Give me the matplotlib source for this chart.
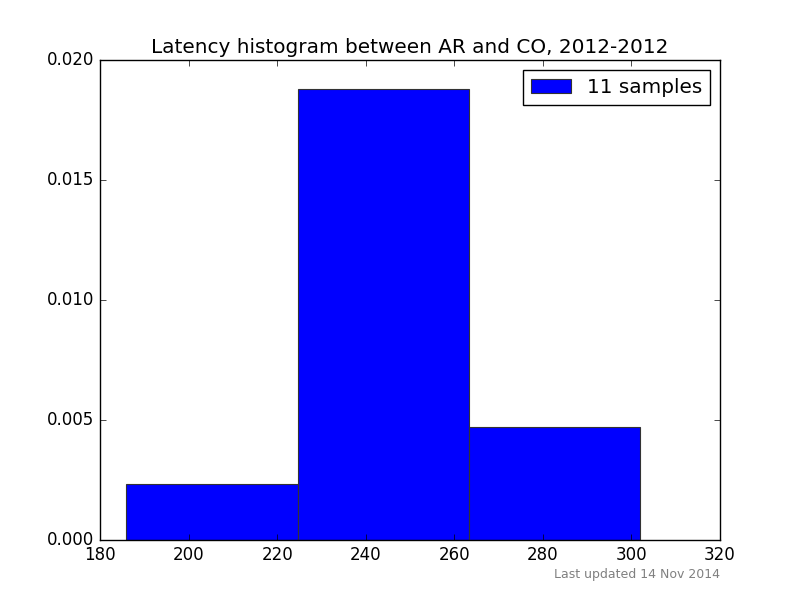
import matplotlib
matplotlib.use('Agg')
import matplotlib.pyplot as plt

# histogram bins (latency in ms)
bin_edges = [185.9, 224.6, 263.3, 301.9]
bin_counts = [1, 8, 2]
n_samples = sum(bin_counts)

title = 'Latency histogram between AR and CO, 2012-2012'
footer = 'Last updated 14 Nov 2014'

plt.style.use('classic')

fig = plt.figure(figsize=(8, 6), dpi=100)
ax = fig.add_axes([0.125, 0.1, 0.775, 0.8])

ax.hist(bin_edges[:-1], bins=bin_edges, weights=bin_counts, density=True,
        color='#0000ff', edgecolor='#333333', linewidth=0.8,
        label='{} samples'.format(n_samples))

ax.set_xlim(180, 320)
ax.set_ylim(0, 0.020)
ax.set_title(title, fontsize=14.4)
ax.legend(loc='upper right', fontsize=14.4)

fig.text(0.9, 0.042, footer, ha='right', va='center', fontsize=9, color='gray')

plt.savefig('out.png', dpi=100, facecolor='white')
